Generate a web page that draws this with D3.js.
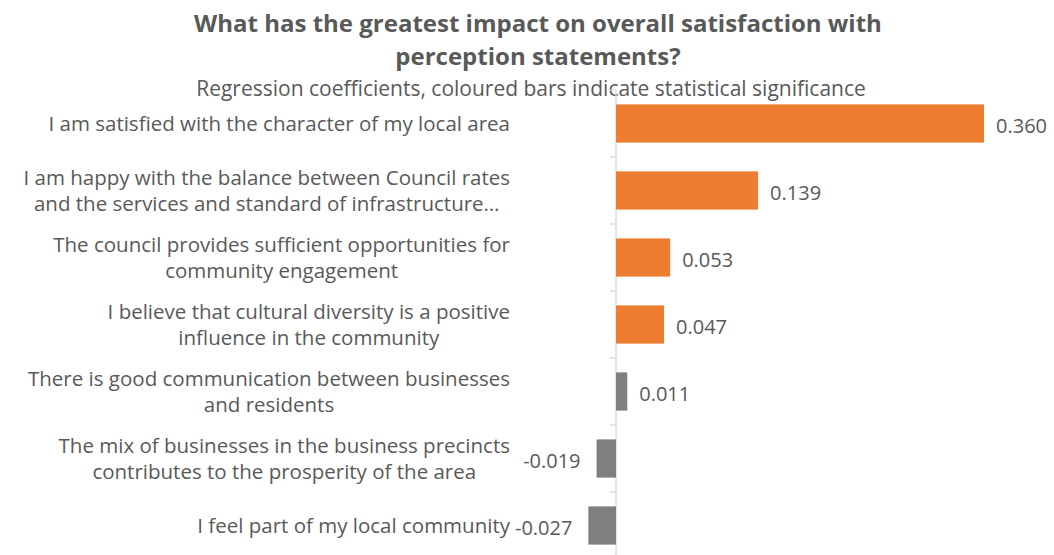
<!DOCTYPE html>
<html>
<head>
<meta charset="utf-8">
<script src="https://cdn.jsdelivr.net/npm/d3@7"></script>
<style>
  html, body { margin: 0; padding: 0; background: #fff; }
  svg { display: block; }
  text { font-family: "Open Sans", "Noto Sans", sans-serif; fill: #595959; }
</style>
</head>
<body>
<svg id="chart" width="1054" height="555"></svg>
<script>
// Regression coefficients for each perception statement
const statements = [
  ["I am satisfied with the character of my local area"],
  ["I am happy with the balance between Council rates", "and the services and standard of infrastructure…"],
  ["The council provides sufficient opportunities for", "community engagement"],
  ["I believe that cultural diversity is a positive", "influence in the community"],
  ["There is good communication between businesses", "and residents"],
  ["The mix of businesses in the business precincts", "contributes to the prosperity of the area"],
  ["I feel part of my local community"]
];
const coefficients = [0.360, 0.139, 0.053, 0.047, 0.011, -0.019, -0.027];
const significant = [true, true, true, true, false, false, false];

const titleLines = ["What has the greatest impact on overall satisfaction with", "perception statements?"];
const subtitle = "Regression coefficients, coloured bars indicate statistical significance";

const svg = d3.select("#chart");
const ids = statements.map((d, i) => i);

const x = d3.scaleLinear().domain([0, 0.360]).range([616, 984]);
const y = d3.scaleBand().domain(ids).range([90, 559]).paddingInner(0.43).paddingOuter(0.215);

// Title and subtitle
svg.append("g").selectAll("text").data(titleLines).join("text")
  .attr("x", 538).attr("y", (d, i) => 32 + i * 33)
  .attr("text-anchor", "middle")
  .style("font-weight", "bold").style("font-size", "24px")
  .text(d => d);
svg.append("text")
  .attr("x", 531).attr("y", 96)
  .attr("text-anchor", "middle")
  .style("font-size", "21px")
  .text(subtitle);

// Category axis at zero with ticks between bands
const step = y.step();
const bounds = ids.map(i => y(i) - step * y.paddingInner() / 2).concat([y(ids.length - 1) + y.bandwidth() + step * y.paddingInner() / 2]);
const axis = svg.append("g");
axis.append("line")
  .attr("x1", x(0)).attr("x2", x(0))
  .attr("y1", bounds[0]).attr("y2", bounds[bounds.length - 1])
  .attr("stroke", "#d9d9d9").attr("stroke-width", 1.3);
axis.selectAll(".tick").data(bounds).join("line")
  .attr("x1", x(0) - 6).attr("x2", x(0))
  .attr("y1", d => d).attr("y2", d => d)
  .attr("stroke", "#d9d9d9").attr("stroke-width", 1.3);

// Bars
svg.append("g").selectAll("rect").data(ids).join("rect")
  .attr("x", i => Math.min(x(0), x(coefficients[i])))
  .attr("width", i => Math.abs(x(coefficients[i]) - x(0)))
  .attr("y", i => y(i))
  .attr("height", y.bandwidth())
  .attr("fill", i => significant[i] ? "#ed7d31" : "#7f7f7f");

// Value labels
svg.append("g").selectAll("text").data(ids).join("text")
  .attr("x", i => coefficients[i] >= 0 ? x(coefficients[i]) + 12 : x(coefficients[i]) - 16)
  .attr("y", i => y(i) + y.bandwidth() / 2 + 2)
  .attr("dy", "0.35em")
  .attr("text-anchor", i => coefficients[i] >= 0 ? "start" : "end")
  .style("font-size", "20px")
  .text(i => coefficients[i].toFixed(3));

// Category labels: wrapped lines are centred on each other, block aligned right
const labelRight = 510;
const labels = svg.append("g").selectAll("text").data(ids).join("text")
  .attr("text-anchor", "middle")
  .style("font-size", "20.5px");
labels.each(function(i) {
  const lines = statements[i];
  const cy = y(i) + y.bandwidth() / 2;
  const t = d3.select(this);
  const spans = t.selectAll("tspan").data(lines).join("tspan")
    .attr("y", (d, k) => cy + (k - (lines.length - 1) / 2) * 26)
    .attr("dy", "0.35em")
    .text(d => d);
  const widest = d3.max(spans.nodes(), n => n.getComputedTextLength());
  spans.attr("x", labelRight - widest / 2);
});
</script>
</body>
</html>
